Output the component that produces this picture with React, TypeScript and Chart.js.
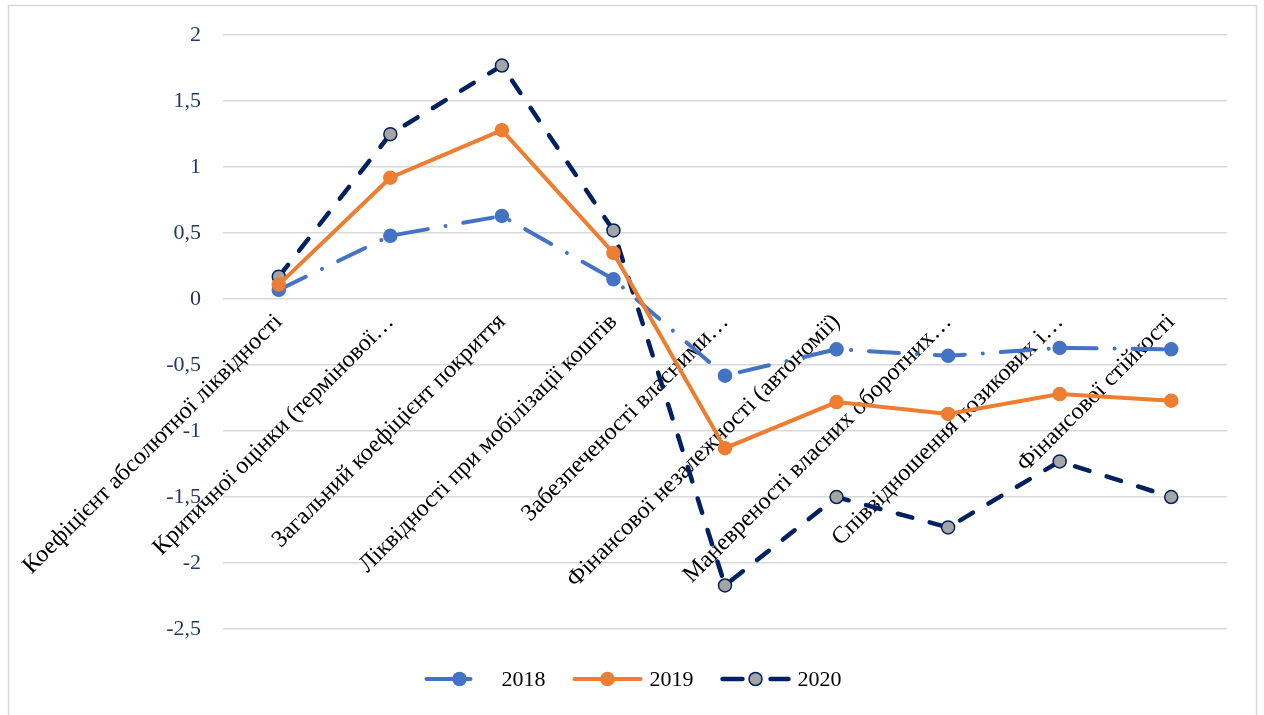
import React, { useEffect, useRef } from "react";
import { Chart, registerables } from "chart.js";

Chart.register(...registerables);

// ---------- data ----------
const categories: string[] = [
  "Коефіцієнт абсолютної ліквідності",
  "Критичної оцінки (термінової…",
  "Загальний коефіцієнт покриття",
  "Ліквідності при мобілізації коштів",
  "Забезпеченості власними…",
  "Фінансової незалежності (автономії)",
  "Маневреності власних оборотних…",
  "Співвідношення позикових і…",
  "Фінансової стійкості",
];

const seriesNames: string[] = ["2018", "2019", "2020"];
const values2018: number[] = [0.07, 0.48, 0.63, 0.15, -0.58, -0.38, -0.43, -0.37, -0.38];
const values2019: number[] = [0.11, 0.92, 1.28, 0.35, -1.13, -0.78, -0.87, -0.72, -0.77];
const values2020: number[] = [0.17, 1.25, 1.77, 0.52, -2.17, -1.5, -1.73, -1.23, -1.5];

const yMin = -2.5;
const yMax = 2;
const yStep = 0.5;

// ---------- styles ----------
const FONT = '"Liberation Serif", "Times New Roman", serif';
const FONT_SIZE = 22;
const CAT_FONT_SIZE = 24;
const BLUE = "#4472C4";
const ORANGE = "#ED7D31";
const NAVY = "#002060";
const GRAY = "#A5A5A5";
const GRID = "#D9D9D9";
const TICK_COLOR = "#1F3864";

type LegendStyle = {
  color: string;
  fill: string;
  width: number;
  dash: number[];
};

const legendStyles: LegendStyle[] = [
  { color: BLUE, fill: BLUE, width: 4, dash: [44, 24, 0.01, 200] },
  { color: ORANGE, fill: ORANGE, width: 4, dash: [] },
  { color: NAVY, fill: GRAY, width: 4.5, dash: [20, 28, 20] },
];

const backgroundPlugin = {
  id: "bgBorder",
  beforeDraw(chart: any) {
    const { ctx, width, height } = chart;
    ctx.save();
    ctx.fillStyle = "#ffffff";
    ctx.fillRect(0, 0, width, height);
    ctx.strokeStyle = GRID;
    ctx.lineWidth = 1.5;
    ctx.strokeRect(8.5, 5.5, 1248, height + 10);
    ctx.restore();
  },
};

const legendPlugin = {
  id: "excelLegend",
  afterDraw(chart: any) {
    const ctx = chart.ctx as CanvasRenderingContext2D;
    ctx.save();
    ctx.font = `${FONT_SIZE}px ${FONT}`;
    const y = 679;
    const sampleW = 70;
    const textGap = 7;
    const itemGap = 27;
    const datasets = chart.data.datasets;
    const widths = datasets.map(
      (ds: any) => sampleW + textGap + ctx.measureText(ds.label).width
    );
    const total =
      widths.reduce((a: number, b: number) => a + b, 0) + itemGap * (datasets.length - 1);
    let x = chart.width / 2 + 1 - total / 2;
    datasets.forEach((ds: any, i: number) => {
      const st = legendStyles[i];
      ctx.save();
      ctx.strokeStyle = st.color;
      ctx.lineWidth = st.width;
      ctx.lineCap = "round";
      ctx.setLineDash(st.dash);
      ctx.beginPath();
      ctx.moveTo(x + 2, y);
      ctx.lineTo(x + sampleW - 2, y);
      ctx.stroke();
      ctx.setLineDash([]);
      ctx.beginPath();
      ctx.arc(x + sampleW / 2, y, 6.5, 0, Math.PI * 2);
      ctx.fillStyle = st.fill;
      ctx.fill();
      ctx.lineWidth = 1.5;
      ctx.strokeStyle = st.color;
      ctx.stroke();
      ctx.restore();
      ctx.fillStyle = "#000000";
      ctx.textAlign = "left";
      ctx.textBaseline = "middle";
      ctx.fillText(ds.label, x + sampleW + textGap, y + 1);
      x += widths[i] + itemGap;
    });
    ctx.restore();
  },
};

export default function App() {
  const canvasRef = useRef<HTMLCanvasElement | null>(null);

  useEffect(() => {
    if (!canvasRef.current) return;
    const chart = new Chart(canvasRef.current, {
      type: "line",
      data: {
        labels: categories,
        datasets: [
          {
            label: seriesNames[0],
            data: values2018,
            borderColor: BLUE,
            backgroundColor: BLUE,
            borderWidth: 4,
            borderDash: [30, 18, 0.01, 18],
            borderCapStyle: "round",
            pointRadius: 6.5,
            pointBackgroundColor: BLUE,
            pointBorderColor: BLUE,
            pointBorderWidth: 1.5,
            tension: 0,
            order: 1,
          },
          {
            label: seriesNames[1],
            data: values2019,
            borderColor: ORANGE,
            backgroundColor: ORANGE,
            borderWidth: 4,
            borderCapStyle: "round",
            pointRadius: 6.5,
            pointBackgroundColor: ORANGE,
            pointBorderColor: ORANGE,
            pointBorderWidth: 1.5,
            tension: 0,
            order: 0,
          },
          {
            label: seriesNames[2],
            data: values2020,
            borderColor: NAVY,
            backgroundColor: GRAY,
            borderWidth: 4.5,
            borderDash: [15, 18],
            borderCapStyle: "round",
            pointRadius: 6.5,
            pointBackgroundColor: GRAY,
            pointBorderColor: NAVY,
            pointBorderWidth: 1.5,
            tension: 0,
            order: 2,
          },
        ],
      },
      options: {
        responsive: false,
        animation: false,
        events: [],
        layout: { padding: { left: 0, right: 37, top: 35, bottom: 86 } },
        plugins: {
          legend: { display: false },
          tooltip: { enabled: false },
          title: { display: false },
        },
        scales: {
          x: {
            type: "category",
            position: { y: 0 } as any,
            offset: true,
            grid: { display: false, drawTicks: false },
            border: { display: false },
            ticks: {
              autoSkip: false,
              minRotation: 45,
              maxRotation: 45,
              padding: 9,
              color: "#000000",
              font: { family: FONT, size: CAT_FONT_SIZE },
            },
          },
          y: {
            min: yMin,
            max: yMax,
            grid: { color: GRID, lineWidth: 1.5, drawTicks: false },
            border: { display: false },
            afterFit: (scale: any) => {
              scale.width = 223;
            },
            ticks: {
              stepSize: yStep,
              padding: 22,
              color: TICK_COLOR,
              font: { family: FONT, size: FONT_SIZE },
              callback: (v: any) => String(v).replace(".", ","),
            },
          },
        },
      },
      plugins: [backgroundPlugin, legendPlugin],
    });
    return () => chart.destroy();
  }, []);

  return (
    <div style={{ position: "fixed", left: 0, top: 0, width: 1264, height: 715, background: "#fff" }}>
      <canvas ref={canvasRef} width={1264} height={715} style={{ display: "block" }} />
    </div>
  );
}
